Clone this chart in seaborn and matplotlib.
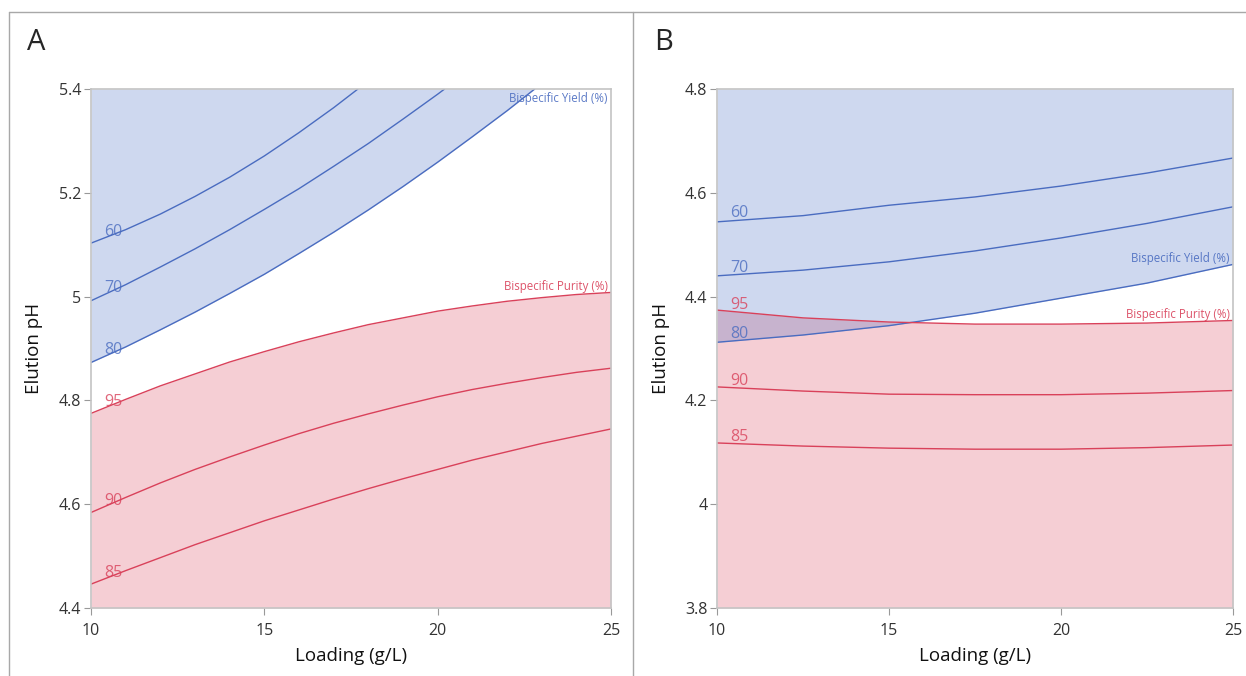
import numpy as np
import seaborn as sns
import matplotlib.pyplot as plt
from matplotlib.ticker import FuncFormatter

# contour lines (Loading g/L -> Elution pH)
# panel A
a_yield_levels = ["60", "70", "80"]
a_yield_x = [[10, 11, 12, 13, 14, 15, 16, 17, 17.7],
             [10, 11, 12, 13, 14, 15, 16, 17, 18, 19, 20, 20.2],
             [10, 11, 12, 13, 14, 15, 16, 17, 18, 19, 20, 21, 22, 22.8]]
a_yield_y = [[5.103, 5.129, 5.159, 5.193, 5.230, 5.271, 5.316, 5.364, 5.40],
             [4.992, 5.023, 5.057, 5.092, 5.129, 5.168, 5.208, 5.251, 5.295,
              5.342, 5.390, 5.40],
             [4.873, 4.903, 4.936, 4.970, 5.006, 5.043, 5.083, 5.124, 5.167,
              5.212, 5.259, 5.308, 5.358, 5.40]]

a_purity_levels = ["95", "90", "85"]
a_purity_x = [10, 11, 12, 13, 14, 15, 16, 17, 18, 19, 20, 21, 22, 23, 24, 25]
a_purity_y = [[4.775, 4.802, 4.828, 4.851, 4.874, 4.894, 4.913, 4.930, 4.946,
               4.959, 4.972, 4.982, 4.991, 4.998, 5.004, 5.008],
              [4.584, 4.613, 4.641, 4.667, 4.691, 4.714, 4.736, 4.756, 4.774,
               4.791, 4.807, 4.821, 4.833, 4.844, 4.854, 4.862],
              [4.446, 4.472, 4.497, 4.522, 4.545, 4.568, 4.589, 4.610, 4.630,
               4.649, 4.667, 4.685, 4.701, 4.717, 4.731, 4.745]]

# panel B
b_yield_levels = ["60", "70", "80"]
b_x = [10, 12.5, 15, 17.5, 20, 22.5, 25]
b_yield_y = [[4.544, 4.556, 4.576, 4.592, 4.613, 4.638, 4.667],
             [4.440, 4.451, 4.467, 4.488, 4.513, 4.541, 4.573],
             [4.312, 4.326, 4.344, 4.368, 4.397, 4.426, 4.462]]

b_purity_levels = ["95", "90", "85"]
b_purity_y = [[4.374, 4.359, 4.351, 4.347, 4.347, 4.349, 4.354],
              [4.226, 4.218, 4.212, 4.211, 4.211, 4.214, 4.219],
              [4.118, 4.112, 4.108, 4.106, 4.106, 4.109, 4.114]]

a_yticks = [4.4, 4.6, 4.8, 5.0, 5.2, 5.4]
b_yticks = [3.8, 4.0, 4.2, 4.4, 4.6, 4.8]
xticks = [10, 15, 20, 25]

sns.set_style("white")
plt.rcParams['font.family'] = ['Open Sans', 'DejaVu Sans']

BLUE = "#4a6cc0"
RED = "#d9415a"
BLUE_FILL = "#3f66c0"
RED_FILL = "#dc4a62"


def panel(ax, yx, yy, ylev, px, py, plev, yticks, lab_dy, name_y):
    lo, hi = yticks[0], yticks[-1]
    # purity region (below 95) then yield region (above 80) on top
    ax.fill_between(px[0], lo, py[0], color=RED_FILL, alpha=0.27, lw=0)
    ax.fill_between(yx[-1], yy[-1], hi, color=BLUE_FILL, alpha=0.25, lw=0)
    for xs, ys, lev in zip(yx, yy, ylev):
        sns.lineplot(x=xs, y=ys, ax=ax, color=BLUE, lw=1.0, sort=False)
        ax.text(10.65, np.interp(10.65, xs, ys) + lab_dy, lev, color=BLUE,
                fontsize=11.5, ha="center", va="center", alpha=0.8)
    for xs, ys, lev in zip(px, py, plev):
        sns.lineplot(x=xs, y=ys, ax=ax, color=RED, lw=1.0, sort=False)
        ax.text(10.65, np.interp(10.65, xs, ys) + lab_dy, lev, color=RED,
                fontsize=11.5, ha="center", va="center", alpha=0.8)
    ax.text(24.9, name_y[0], "Bispecific Yield (%)", color=BLUE, fontsize=8.3,
            ha="right", va="center", alpha=0.9)
    ax.text(24.9, name_y[1], "Bispecific Purity (%)", color=RED, fontsize=8.3,
            ha="right", va="center", alpha=0.9)
    ax.set_xlim(10, 25)
    ax.set_ylim(lo, hi)
    ax.set_xticks(xticks)
    ax.set_yticks(yticks)
    ax.yaxis.set_major_formatter(FuncFormatter(lambda v, p: f"{v:g}"))
    ax.tick_params(axis="both", which="major", direction="out", length=5,
                   width=0.8, color="#999999", labelsize=11.5,
                   labelcolor="#333333", bottom=True, left=True, pad=2)
    ax.tick_params(axis="x", pad=6)
    for s in ax.spines.values():
        s.set_color("#c4c4c4")
        s.set_linewidth(1.2)
    ax.set_xlabel("Loading (g/L)", fontsize=13.5, color="#111111")
    ax.set_ylabel("Elution pH", fontsize=13.5, color="#111111")
    ax.xaxis.set_label_coords(0.5, -0.075)
    ax.yaxis.set_label_coords(-0.092, 0.5)


fig = plt.figure(figsize=(12.46, 6.76), dpi=100)
axA = fig.add_axes([91 / 1246, 1 - 608 / 676, 520 / 1246, 519 / 676])
axB = fig.add_axes([717 / 1246, 1 - 608 / 676, 516 / 1246, 519 / 676])

panel(axA, a_yield_x, a_yield_y, a_yield_levels,
      [a_purity_x] * 3, a_purity_y, a_purity_levels,
      a_yticks, 0.004, (5.381, 5.020))
panel(axB, [b_x] * 3, b_yield_y, b_yield_levels,
      [b_x] * 3, b_purity_y, b_purity_levels,
      b_yticks, 0.013, (4.473, 4.366))

fig.text(27 / 1246, 1 - 43 / 676, "A", fontsize=21, ha="left", va="center")
fig.text(654 / 1246, 1 - 43 / 676, "B", fontsize=21, ha="left", va="center")

# panel frames
frame = dict(color="#a8a8a8", lw=1.0, transform=fig.transFigure)
fig.add_artist(plt.Line2D([9 / 1246, 1], [1 - 12 / 676] * 2, **frame))
fig.add_artist(plt.Line2D([9 / 1246] * 2, [0, 1 - 12 / 676], **frame))
fig.add_artist(plt.Line2D([633 / 1246] * 2, [0, 1 - 12 / 676], **frame))

fig.savefig("out.png", dpi=100)
